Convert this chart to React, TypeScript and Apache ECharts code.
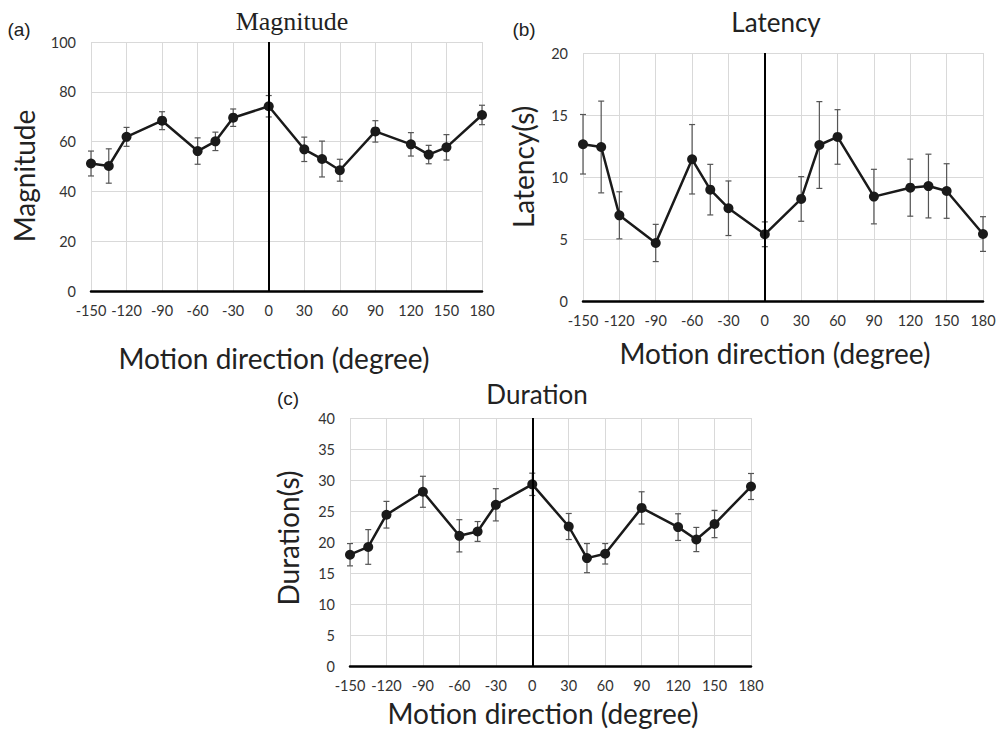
import React, { useEffect, useRef } from "react";
import * as echarts from "echarts";

const directions = [-150, -135, -120, -90, -60, -45, -30, 0, 30, 45, 60, 90, 120, 135, 150, 180];

const magnitude = [51.2, 50.2, 61.9, 68.4, 56.2, 60.1, 69.6, 74.2, 56.9, 53.0, 48.5, 64.1, 58.9, 54.8, 57.7, 70.7];
const magnitudeErr = [5.0, 6.9, 3.8, 3.6, 5.3, 3.7, 3.5, 4.3, 4.9, 7.2, 4.4, 4.3, 4.7, 3.7, 5.1, 3.9];

const latency = [12.64, 12.42, 6.91, 4.68, 11.43, 8.98, 7.48, 5.38, 8.23, 12.58, 13.23, 8.42, 9.14, 9.27, 8.87, 5.4];
const latencyErr = [2.4, 3.7, 1.9, 1.5, 2.8, 2.04, 2.2, 1.0, 1.8, 3.5, 2.2, 2.2, 2.3, 2.57, 2.2, 1.4];

const duration = [17.95, 19.2, 24.4, 28.1, 21.0, 21.7, 26.0, 29.3, 22.5, 17.4, 18.1, 25.5, 22.4, 20.4, 22.9, 28.95];
const durationErr = [1.8, 2.8, 2.15, 2.5, 2.6, 1.6, 2.6, 1.8, 2.1, 2.35, 1.65, 2.6, 2.15, 1.95, 2.2, 2.1];

const panelTitles = ["Magnitude", "Latency", "Duration"];
const panelTags = ["(a)", "(b)", "(c)"];
const yNames = ["Magnitude", "Latency(s)", "Duration(s)"];
const xName = "Motion direction (degree)";
const xRange = { min: -150, max: 180, interval: 30 };
const yRanges = [
  { min: 0, max: 100, interval: 20 },
  { min: 0, max: 20, interval: 5 },
  { min: 0, max: 40, interval: 5 },
];

const SANS = "Lato, 'Noto Sans', sans-serif";

export default function App() {
  const ref = useRef<HTMLDivElement>(null);
  useEffect(() => {
    document.body.style.margin = "0";
    const chart = echarts.init(ref.current!, null, { renderer: "svg" });
    const grids = [
      { left: 91, top: 42, width: 391, height: 249 },
      { left: 583, top: 53, width: 400, height: 248 },
      { left: 350, top: 418, width: 401, height: 248 },
    ];
    const datasets = [
      [magnitude, magnitudeErr],
      [latency, latencyErr],
      [duration, durationErr],
    ];

    const xAxes = grids.map((_, i) => ({
      type: "value",
      gridIndex: i,
      min: xRange.min,
      max: xRange.max,
      interval: xRange.interval,
      axisLine: { show: true, onZero: false, lineStyle: { color: "#000", width: 2.5 } },
      axisTick: { show: false },
      axisLabel: { margin: 12, fontFamily: SANS, fontSize: 14.5, color: "#333" },
      splitLine: { show: true, lineStyle: { color: "#d9d9d9", width: 1 } },
    }));
    const yAxes = grids.map((_, i) => ({
      type: "value",
      gridIndex: i,
      min: yRanges[i].min,
      max: yRanges[i].max,
      interval: yRanges[i].interval,
      axisLine: { show: false },
      axisTick: { show: false },
      axisLabel: { margin: 15, fontFamily: SANS, fontSize: 14.5, color: "#333" },
      splitLine: { show: true, lineStyle: { color: "#d9d9d9", width: 1 } },
    }));

    const series: any[] = [];
    datasets.forEach(([vals, errs], i) => {
      series.push({
        type: "custom",
        xAxisIndex: i,
        yAxisIndex: i,
        z: 1,
        data: directions.map((d, k) => [d, vals[k] - errs[k], vals[k] + errs[k]]),
        renderItem: (params: any, api: any) => {
          const x = api.value(0);
          const lo = api.coord([x, api.value(1)]);
          const hi = api.coord([x, api.value(2)]);
          const w = 3;
          const style = { stroke: "#555", lineWidth: 1.2 };
          return {
            type: "group",
            children: [
              { type: "line", shape: { x1: lo[0], y1: lo[1], x2: hi[0], y2: hi[1] }, style },
              { type: "line", shape: { x1: hi[0] - w, y1: hi[1], x2: hi[0] + w, y2: hi[1] }, style },
              { type: "line", shape: { x1: lo[0] - w, y1: lo[1], x2: lo[0] + w, y2: lo[1] }, style },
            ],
          };
        },
      });
      series.push({
        type: "line",
        xAxisIndex: i,
        yAxisIndex: i,
        z: 3,
        data: directions.map((d, k) => [d, vals[k]]),
        symbol: "circle",
        symbolSize: 10,
        itemStyle: { color: "#1a1a1a" },
        lineStyle: { color: "#1a1a1a", width: 2.5 },
        markLine: {
          silent: true,
          symbol: ["none", "none"],
          label: { show: false },
          lineStyle: { color: "#000", width: 2, type: "solid" },
          data: [{ xAxis: 0 }],
        },
      });
    });

    const text = (t: string, x: number, y: number, font: string, rot = 0) => ({
      type: "text",
      x,
      y,
      rotation: rot,
      style: { text: t, font, fill: "#222", textAlign: "center", textVerticalAlign: "middle" },
    });

    const graphic = [
      text(panelTitles[0], 292, 21, "26px 'Liberation Serif', serif"),
      text(panelTitles[1], 776, 22, `26px ${SANS}`),
      text(panelTitles[2], 537, 394, `26px ${SANS}`),
      text(panelTags[0], 19, 29, "19px 'Liberation Sans', Arial, sans-serif"),
      text(panelTags[1], 524, 29, "19px 'Liberation Sans', Arial, sans-serif"),
      text(panelTags[2], 288, 398, "19px 'Liberation Sans', Arial, sans-serif"),
      text(xName, 274, 358, `28px ${SANS}`),
      text(xName, 775, 353, `28px ${SANS}`),
      text(xName, 543, 713, `28px ${SANS}`),
      text(yNames[0], 24, 176, `28px ${SANS}`, Math.PI / 2),
      text(yNames[1], 523, 167, `28px ${SANS}`, Math.PI / 2),
      text(yNames[2], 288, 538, `28px ${SANS}`, Math.PI / 2),
    ];

    chart.setOption({
      animation: false,
      backgroundColor: "#fff",
      grid: grids,
      xAxis: xAxes,
      yAxis: yAxes,
      series,
      graphic,
    });
    return () => chart.dispose();
  }, []);
  return <div ref={ref} style={{ width: 1000, height: 730 }} />;
}
